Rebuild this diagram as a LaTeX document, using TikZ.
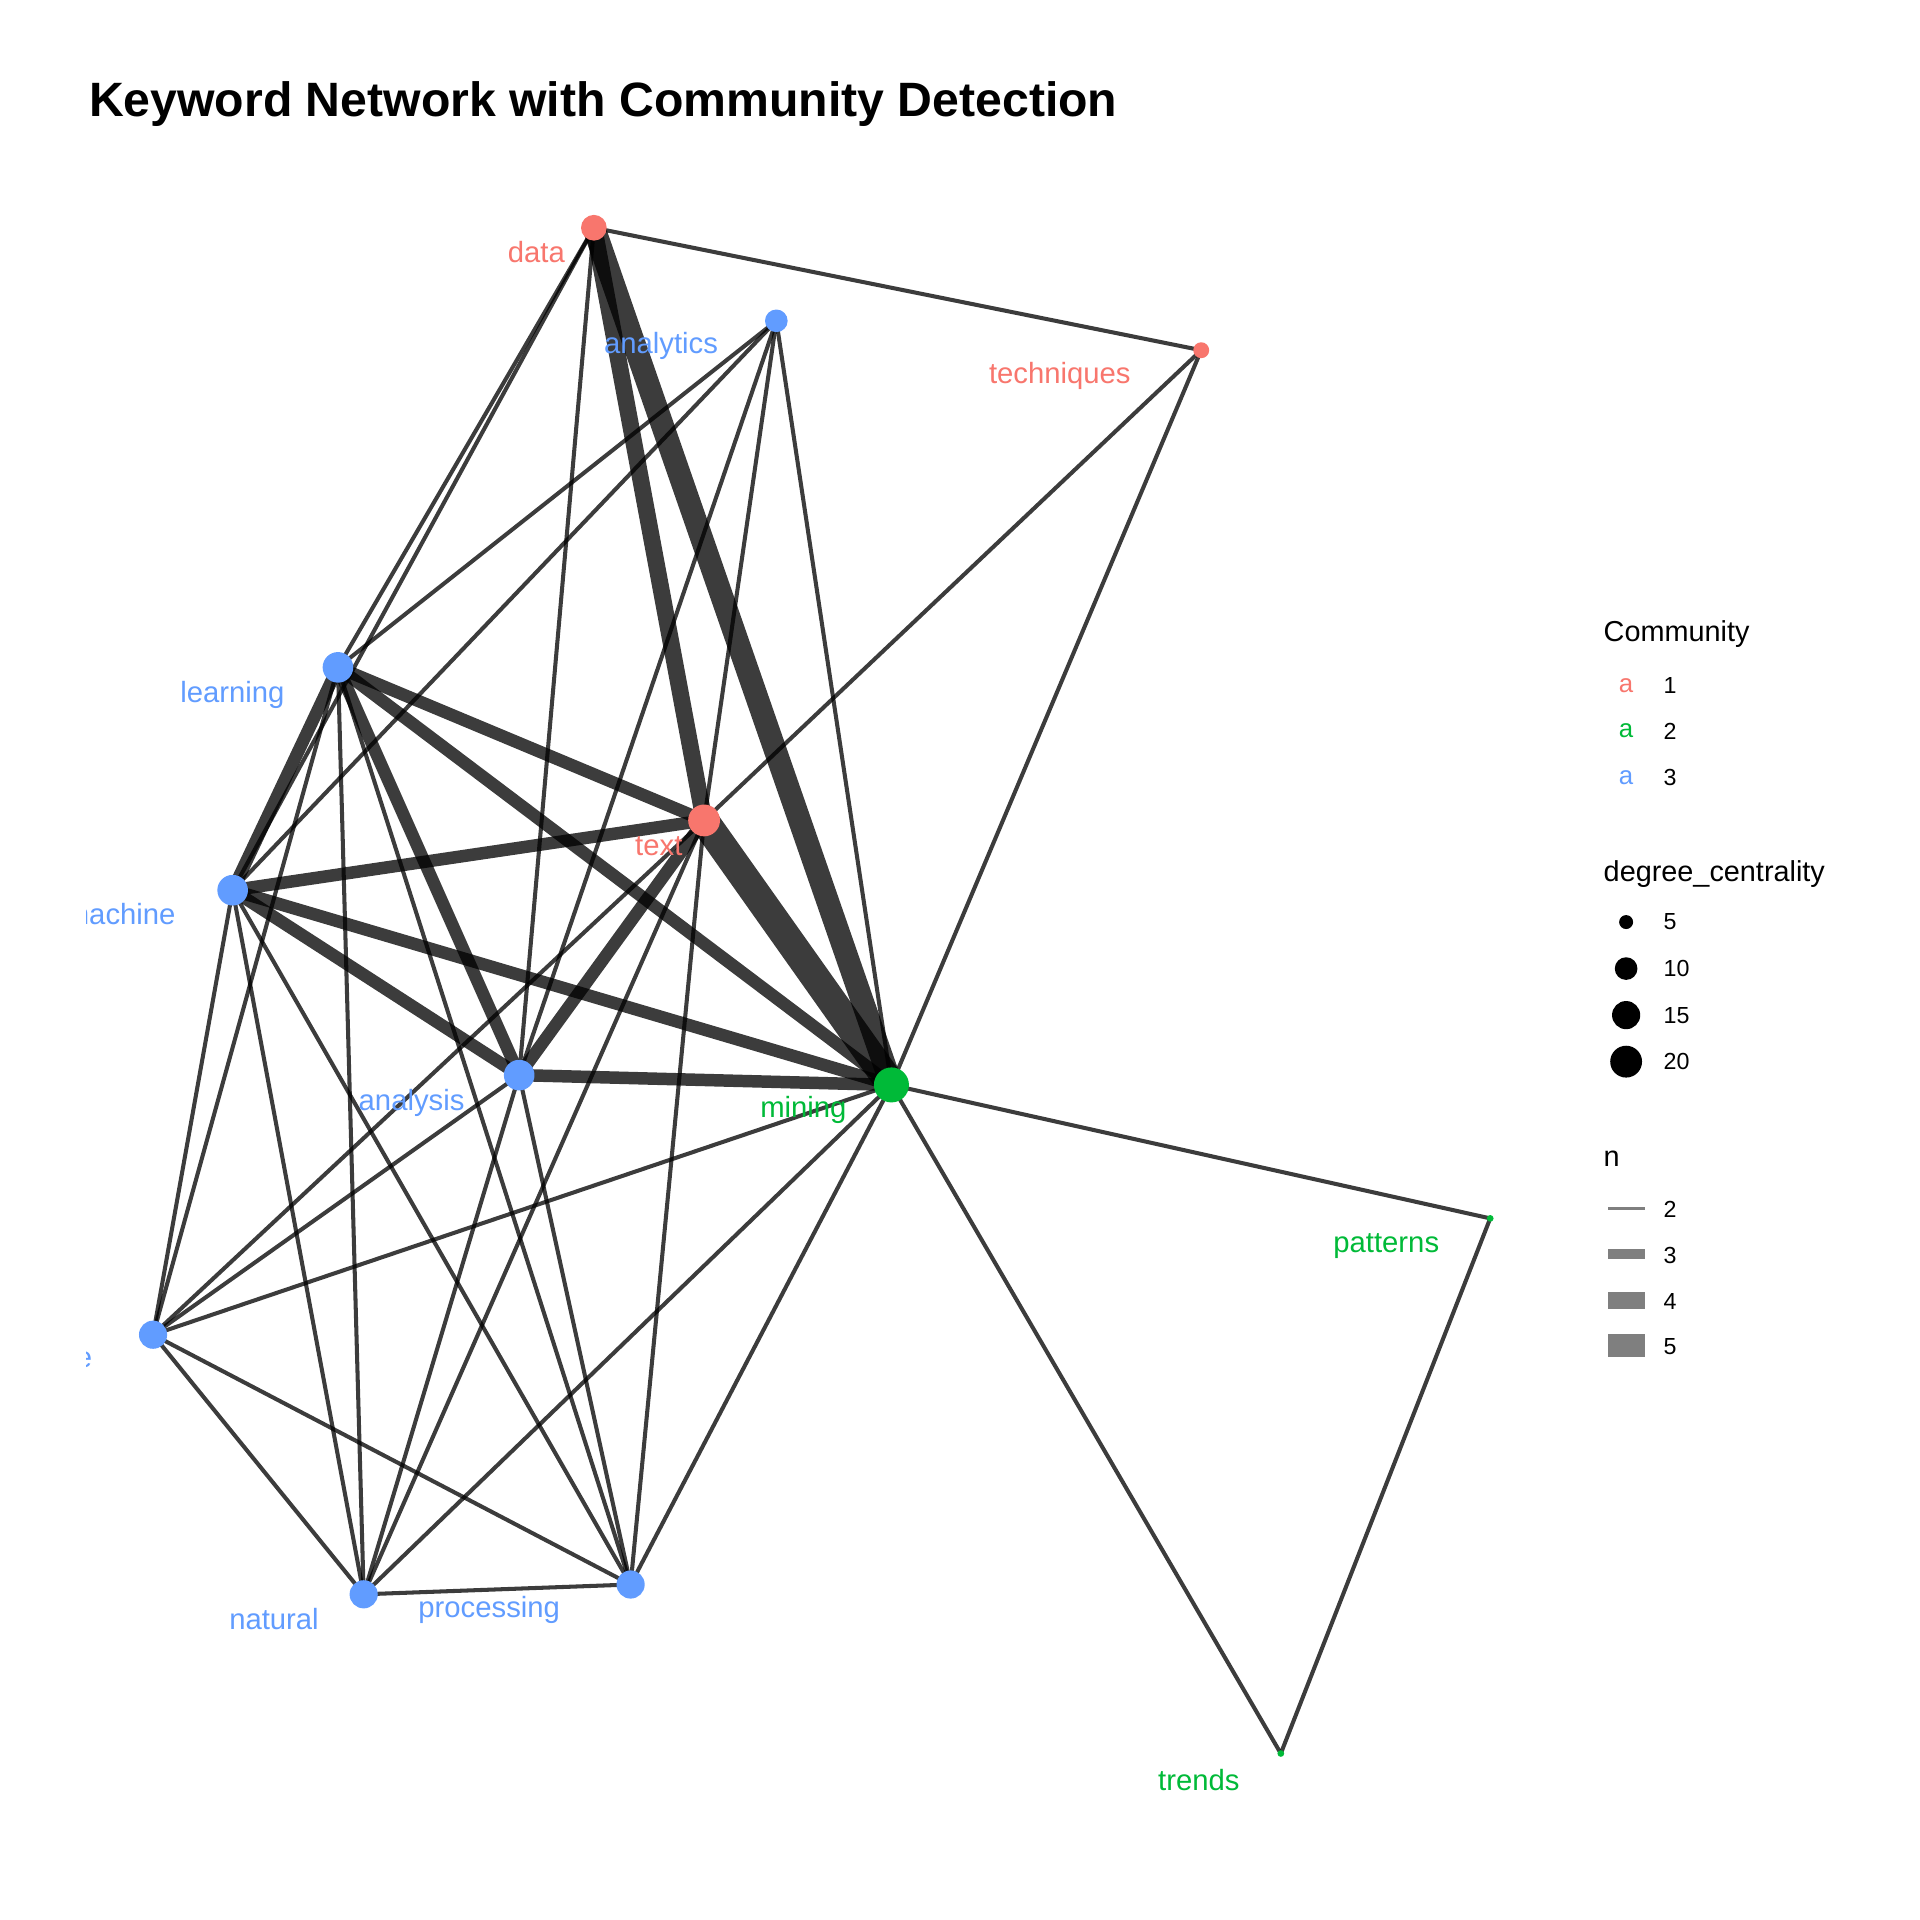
\documentclass[tikz,border=0pt]{standalone}
\usepackage{fontspec}
\setmainfont{Liberation Sans}
\usepackage{xcolor}
\usepackage{tikz}
\usetikzlibrary{positioning, backgrounds}
\definecolor{comm_one}{HTML}{F8766D}
\definecolor{comm_two}{HTML}{00BA38}
\definecolor{comm_three}{HTML}{619CFF}
\definecolor{key_grey}{HTML}{7F7F7F}
\newcommand{\lblfont}{\fontsize{6.8}{8}\selectfont}
\newcommand{\legtitle}{\fontsize{6.7}{8}\selectfont}
\newcommand{\legfont}{\fontsize{5.4}{6.5}\selectfont}

\begin{document}
\begin{tikzpicture}[x=0.1mm, y=-0.1mm,
    kw/.style={circle, inner sep=0pt, draw=none, minimum size=#1},
    lbl/.style={anchor=base east, inner sep=0pt, font=\lblfont},
    legtxt/.style={anchor=west, inner sep=0pt, font=\legfont},
    legttl/.style={anchor=base west, inner sep=0pt, font=\legtitle},
    keya/.style={inner sep=0pt, font=\fontsize{6}{7}\selectfont},
    wtwo/.style={draw=black, draw opacity=0.765, line width=0.94pt},
    wthree/.style={draw=black, draw opacity=0.765, line width=2.9pt},
    wfour/.style={draw=black, draw opacity=0.765, line width=3.9pt},
    wfive/.style={draw=black, draw opacity=0.765, line width=5.3pt},
    wsix/.style={draw=black, draw opacity=0.765, line width=6.8pt}]
  \useasboundingbox (0,0) rectangle (1568,1568);

  \node[anchor=base west, inner sep=0pt, font=\fontsize{11.2}{13}\bfseries] (title)
    at (72,95) {Keyword Network with Community Detection};

  \node[kw=2.1mm, fill=comm_one] (data) at (485,186) {};
  \node[kw=1.85mm, fill=comm_three] (analytics) at (634,262) {};
  \node[kw=1.3mm, fill=comm_one] (techniques) at (981,286) {};
  \node[kw=2.5mm, fill=comm_three] (learning) at (276,545) {};
  \node[kw=2.6mm, fill=comm_one] (text) at (575,670) {};
  \node[kw=2.5mm, fill=comm_three] (machine) at (190,727) {};
  \node[kw=2.5mm, fill=comm_three] (analysis) at (424,878) {};
  \node[kw=2.86mm, fill=comm_two] (mining) at (728,886) {};
  \node[kw=0.55mm, fill=comm_two] (patterns) at (1217,995) {};
  \node[kw=2.3mm, fill=comm_three] (language) at (125,1090) {};
  \node[kw=2.3mm, fill=comm_three] (natural) at (297,1302) {};
  \node[kw=2.3mm, fill=comm_three] (processing) at (515,1294) {};
  \node[kw=0.55mm, fill=comm_two] (trends) at (1046,1432) {};

  \begin{scope}[on background layer]
    \fill[white] (0,0) rectangle (1568,1568);
    \draw[wtwo] (data.center) -- (techniques.center);
    \draw[wtwo] (data.center) -- (learning.center);
    \draw[wtwo] (data.center) -- (machine.center);
    \draw[wtwo] (data.center) -- (analysis.center);
    \draw[wfour] (data.center) -- (text.center);
    \draw[wfive] (data.center) -- (mining.center);
    \draw[wtwo] (analytics.center) -- (learning.center);
    \draw[wtwo] (analytics.center) -- (machine.center);
    \draw[wtwo] (analytics.center) -- (analysis.center);
    \draw[wtwo] (analytics.center) -- (text.center);
    \draw[wtwo] (analytics.center) -- (mining.center);
    \draw[wtwo] (techniques.center) -- (text.center);
    \draw[wtwo] (techniques.center) -- (mining.center);
    \draw[wthree] (learning.center) -- (machine.center);
    \draw[wthree] (learning.center) -- (text.center);
    \draw[wthree] (learning.center) -- (analysis.center);
    \draw[wthree] (learning.center) -- (mining.center);
    \draw[wtwo] (learning.center) -- (language.center);
    \draw[wtwo] (learning.center) -- (natural.center);
    \draw[wtwo] (learning.center) -- (processing.center);
    \draw[wthree] (machine.center) -- (text.center);
    \draw[wthree] (machine.center) -- (analysis.center);
    \draw[wthree] (machine.center) -- (mining.center);
    \draw[wtwo] (machine.center) -- (language.center);
    \draw[wtwo] (machine.center) -- (natural.center);
    \draw[wtwo] (machine.center) -- (processing.center);
    \draw[wthree] (analysis.center) -- (text.center);
    \draw[wthree] (analysis.center) -- (mining.center);
    \draw[wtwo] (analysis.center) -- (language.center);
    \draw[wtwo] (analysis.center) -- (natural.center);
    \draw[wtwo] (analysis.center) -- (processing.center);
    \draw[wsix] (text.center) -- (mining.center);
    \draw[wtwo] (text.center) -- (language.center);
    \draw[wtwo] (text.center) -- (natural.center);
    \draw[wtwo] (text.center) -- (processing.center);
    \draw[wtwo] (mining.center) -- (patterns.center);
    \draw[wtwo] (mining.center) -- (trends.center);
    \draw[wtwo] (mining.center) -- (language.center);
    \draw[wtwo] (mining.center) -- (natural.center);
    \draw[wtwo] (mining.center) -- (processing.center);
    \draw[wtwo] (language.center) -- (natural.center);
    \draw[wtwo] (language.center) -- (processing.center);
    \draw[wtwo] (natural.center) -- (processing.center);
    \draw[wtwo] (patterns.center) -- (trends.center);
  \end{scope}

  \begin{scope}
    \clip (71,0) rectangle (1568,1568);
    \node[lbl, text=comm_one] (data-lbl) at (462,214) {data};
    \node[lbl, text=comm_three] (analytics-lbl) at (587,289) {analytics};
    \node[lbl, text=comm_one] (techniques-lbl) at (924,313) {techniques};
    \node[lbl, text=comm_three] (learning-lbl) at (233,574) {learning};
    \node[lbl, text=comm_one] (text-lbl) at (558,699) {text};
    \node[lbl, text=comm_three] (machine-lbl) at (144,755) {machine};
    \node[lbl, text=comm_three] (analysis-lbl) at (380,907) {analysis};
    \node[lbl, text=comm_two] (mining-lbl) at (692,913) {mining};
    \node[lbl, text=comm_two] (patterns-lbl) at (1176,1023) {patterns};
    \node[lbl, text=comm_three] (language-lbl) at (76,1117) {language};
    \node[lbl, text=comm_three] (natural-lbl) at (261,1331) {natural};
    \node[lbl, text=comm_three] (processing-lbl) at (458,1321) {processing};
    \node[lbl, text=comm_two] (trends-lbl) at (1013,1462) {trends};
  \end{scope}

  \node[legttl] (comm-ttl) at (1309,524) {Community};
  \node[keya, text=comm_one] (comm-a1) at (1328,560) {a};
  \node[keya, text=comm_two] (comm-a2) at (1328,597) {a};
  \node[keya, text=comm_three] (comm-a3) at (1328,635) {a};
  \node[legtxt] (comm-1) at (1358,560) {1};
  \node[legtxt] (comm-2) at (1358,597) {2};
  \node[legtxt] (comm-3) at (1358,635) {3};

  \node[legttl] (deg-ttl) at (1309,720) {degree\_centrality};
  \node[kw=1.14mm, fill=black] (deg-k5) at (1328,753) {};
  \node[kw=1.85mm, fill=black] (deg-k10) at (1328,791) {};
  \node[kw=2.3mm, fill=black] (deg-k15) at (1328,829) {};
  \node[kw=2.6mm, fill=black] (deg-k20) at (1328,867) {};
  \node[legtxt] (deg-5) at (1358,753) {5};
  \node[legtxt] (deg-10) at (1358,791) {10};
  \node[legtxt] (deg-15) at (1358,829) {15};
  \node[legtxt] (deg-20) at (1358,867) {20};

  \node[legttl] (n-ttl) at (1309,953) {n};
  \fill[key_grey] (1313,985.5) rectangle (1343,988.5);
  \fill[key_grey] (1313,1019.9) rectangle (1343,1028.1);
  \fill[key_grey] (1313,1055.2) rectangle (1343,1068.8);
  \fill[key_grey] (1313,1089.5) rectangle (1343,1108.5);
  \node[legtxt] (n-2) at (1358,988) {2};
  \node[legtxt] (n-3) at (1358,1025) {3};
  \node[legtxt] (n-4) at (1358,1063) {4};
  \node[legtxt] (n-5) at (1358,1100) {5};
\end{tikzpicture}
\end{document}
